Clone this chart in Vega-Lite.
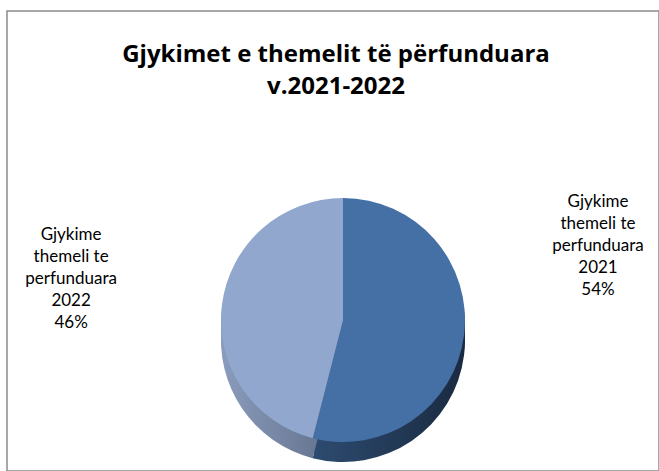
{
  "$schema": "https://vega.github.io/schema/vega-lite/v6.json",
  "width": 652,
  "height": 460,
  "autosize": "none",
  "padding": {"left": 7, "top": 11, "right": 0, "bottom": 0},
  "background": "white",
  "view": {"stroke": "#8c8c8c", "strokeWidth": 1.5, "fill": "white"},
  "title": {
    "text": ["Gjykimet e themelit të përfunduara", "v.2021-2022"],
    "font": "Open Sans",
    "fontSize": 24,
    "fontWeight": "bold",
    "color": "#000000",
    "anchor": "middle",
    "frame": "group",
    "offset": -88,
    "lineHeight": 32,
    "dx": 3
  },
  "data": {
    "values": [
      {"year": "2021", "value": 54, "label": "Gjykime\nthemeli te\nperfunduara\n2021\n54%"},
      {"year": "2022", "value": 46, "label": "Gjykime\nthemeli te\nperfunduara\n2022\n46%"}
    ]
  },
  "encoding": {
    "theta": {"field": "value", "type": "quantitative", "stack": true},
    "order": {"field": "year", "type": "nominal"}
  },
  "layer": [
    {
      "mark": {"type": "arc", "outerRadius": 122, "xOffset": 10, "yOffset": 84},
      "encoding": {"color": {"condition": {"test": "datum.year === '2021'", "value": {"gradient": "linear", "x1": 0, "x2": 1, "y1": 0, "y2": 0, "stops": [{"offset": 0, "color": "#2d4b70"}, {"offset": 1, "color": "#1a2a40"}]}}, "value": {"gradient": "linear", "x1": 0, "x2": 1, "y1": 0, "y2": 0, "stops": [{"offset": 0, "color": "#8a9cbd"}, {"offset": 1, "color": "#5f6d87"}]}}}
    },
    {
      "mark": {"type": "arc", "outerRadius": 122, "xOffset": 10, "yOffset": 89},
      "encoding": {"color": {"condition": {"test": "datum.year === '2021'", "value": {"gradient": "linear", "x1": 0, "x2": 1, "y1": 0, "y2": 0, "stops": [{"offset": 0, "color": "#2d4b70"}, {"offset": 1, "color": "#1a2a40"}]}}, "value": {"gradient": "linear", "x1": 0, "x2": 1, "y1": 0, "y2": 0, "stops": [{"offset": 0, "color": "#8a9cbd"}, {"offset": 1, "color": "#5f6d87"}]}}}
    },
    {
      "mark": {"type": "arc", "outerRadius": 122, "xOffset": 10, "yOffset": 94},
      "encoding": {"color": {"condition": {"test": "datum.year === '2021'", "value": {"gradient": "linear", "x1": 0, "x2": 1, "y1": 0, "y2": 0, "stops": [{"offset": 0, "color": "#2d4b70"}, {"offset": 1, "color": "#1a2a40"}]}}, "value": {"gradient": "linear", "x1": 0, "x2": 1, "y1": 0, "y2": 0, "stops": [{"offset": 0, "color": "#8a9cbd"}, {"offset": 1, "color": "#5f6d87"}]}}}
    },
    {
      "mark": {"type": "arc", "outerRadius": 122, "xOffset": 10, "yOffset": 99},
      "encoding": {"color": {"condition": {"test": "datum.year === '2021'", "value": {"gradient": "linear", "x1": 0, "x2": 1, "y1": 0, "y2": 0, "stops": [{"offset": 0, "color": "#2d4b70"}, {"offset": 1, "color": "#1a2a40"}]}}, "value": {"gradient": "linear", "x1": 0, "x2": 1, "y1": 0, "y2": 0, "stops": [{"offset": 0, "color": "#8a9cbd"}, {"offset": 1, "color": "#5f6d87"}]}}}
    },
    {
      "mark": {"type": "arc", "outerRadius": 122, "xOffset": 10, "yOffset": 79},
      "encoding": {"color": {"condition": {"test": "datum.year === '2021'", "value": "#4470a5"}, "value": "#91a7ce"}}
    },
    {
      "mark": {"type": "text", "font": "Lato", "fontSize": 17, "lineBreak": "\n", "lineHeight": 22, "align": "center", "baseline": "middle", "radius": 252, "dx": 15, "dy": -71, "color": "#000000"},
      "encoding": {"text": {"condition": {"test": "datum.year === '2021'", "field": "label"}, "value": ""}}
    },
    {
      "mark": {"type": "text", "font": "Lato", "fontSize": 17, "lineBreak": "\n", "lineHeight": 22, "align": "center", "baseline": "middle", "radius": 268, "dx": 4, "dy": 28, "color": "#000000"},
      "encoding": {"text": {"condition": {"test": "datum.year === '2022'", "field": "label"}, "value": ""}}
    }
  ]
}
